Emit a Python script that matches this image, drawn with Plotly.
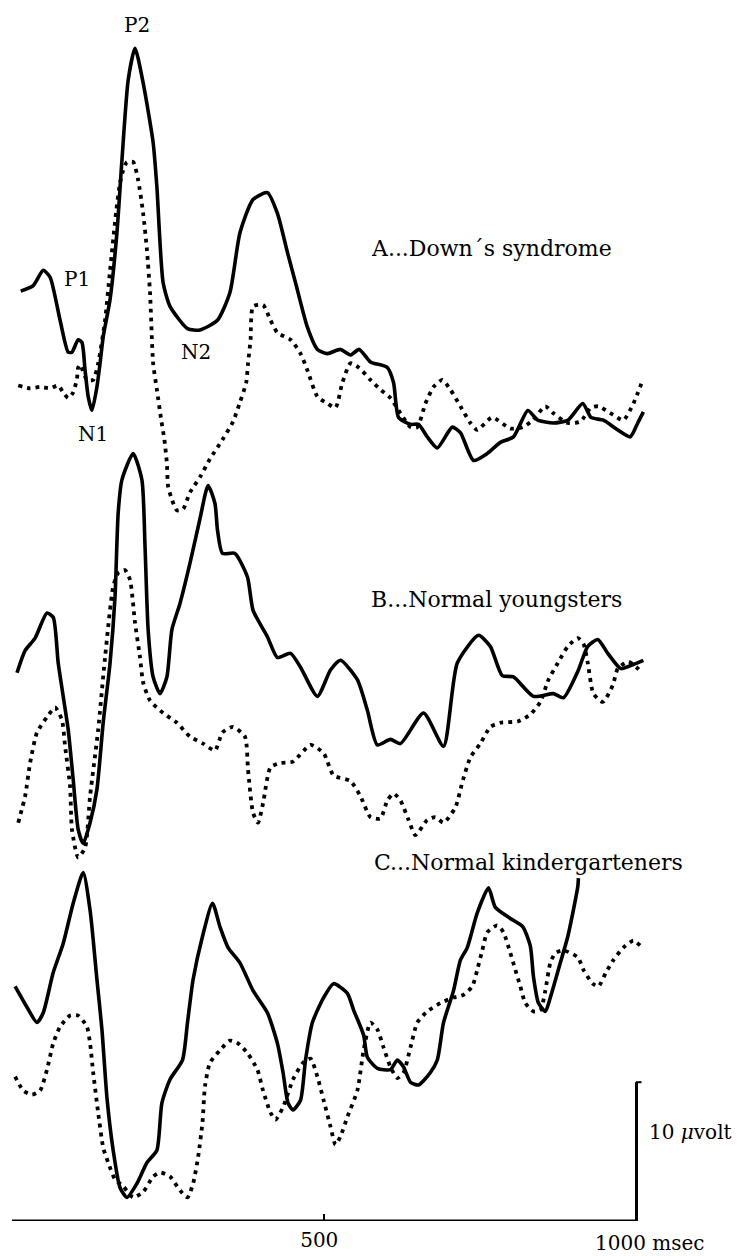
import plotly.graph_objects as go

# ---------------- data (time in msec, amplitude in microvolt relative to each group's baseline)
offset_A = 60.6
offset_B = 36.1
offset_C = 11.6

A_solid_t = [14, 34, 50, 61, 77, 90, 96, 106, 112, 117, 122, 128, 136, 141, 146, 157, 168, 176, 186, 197,
             210, 226, 232, 242, 253, 281, 301, 329, 349, 365, 386, 409, 425, 441, 454, 473, 489, 505, 526, 542,
             556, 574, 601, 611, 619, 638, 651, 665, 681, 705, 718, 739, 761, 782, 803, 826, 842, 867, 890, 914,
             927, 947, 970, 990, 1002, 1011]
A_solid_v = [6.4, 6.8, 7.9, 7.4, 4.3, 2.0, 2.0, 2.9, 2.7, 0.7, -1.2, -2.2, -0.5, 1.2, 3.1, 5.8, 10.6, 15.8, 21.6, 23.9,
             21.4, 17.1, 13.9, 7.0, 5.3, 3.7, 3.6, 4.3, 6.3, 10.6, 13.0, 13.5, 12.0, 9.2, 7.0, 3.8, 2.2, 1.9, 2.2, 1.8,
             2.2, 1.3, 0.9, -0.2, -2.7, -3.2, -3.2, -4.1, -4.9, -3.4, -3.8, -5.8, -5.3, -4.5, -4.1, -2.2, -2.9, -3.1, -2.9, -1.7,
             -2.7, -2.9, -3.6, -4.1, -3.1, -2.3]

A_dot_t = [10, 29, 45, 61, 74, 82, 90, 98, 104, 106, 109, 120, 130, 138, 149, 157, 167, 173, 178, 184,
           194, 202, 210, 216, 221, 226, 232, 239, 244, 248, 250, 256, 264, 274, 285, 301, 317, 337, 354, 365,
           375, 378, 382, 386, 402, 414, 425, 446, 462, 473, 489, 505, 518, 529, 542, 555, 574, 590, 606, 622,
           638, 649, 662, 675, 689, 702, 718, 734, 745, 769, 798, 818, 834, 854, 867, 890, 910, 927, 939, 962,
           979, 995, 1010]
A_dot_v = [-0.4, -0.6, -0.5, -0.6, -0.4, -0.9, -1.3, -0.9, 0.1, 0.9, 1.1, 0.0, 0.0, 1.2, 4.3, 7.9, 12.2, 14.2, 15.1, 15.7,
           15.7, 14.4, 12.0, 9.4, 6.3, 1.2, -0.7, -2.9, -4.3, -6.0, -7.7, -8.6, -9.4, -9.3, -8.1, -7.0, -5.7, -4.3, -3.0, -1.6,
           -0.2, 1.2, 2.9, 5.3, 5.4, 4.3, 3.4, 2.9, 1.9, 0.7, -1.2, -1.7, -2.0, -0.2, 1.2, 0.9, 0.0, -0.7, -1.3, -2.4,
           -3.4, -3.4, -1.7, -0.5, 0.0, -0.7, -1.9, -3.1, -3.6, -2.7, -3.5, -3.4, -2.9, -1.9, -2.4, -3.1, -3.0, -2.0, -1.9, -2.5,
           -2.9, -1.7, 0.0]

B_solid_t = [8, 21, 37, 56, 66, 74, 82, 90, 98, 106, 114, 125, 136, 146, 157, 165, 170, 176, 194, 208,
             213, 218, 226, 237, 248, 256, 269, 285, 301, 314, 325, 329, 337, 357, 377, 386, 409, 425, 446, 462,
             489, 510, 526, 553, 569, 585, 606, 622, 659, 691, 713, 747, 766, 785, 803, 835, 867, 883, 906, 922,
             938, 954, 975, 995, 1011]
B_solid_v = [3.4, 5.0, 5.9, 7.7, 7.4, 4.1, 1.7, -0.7, -4.3, -7.9, -8.9, -7.4, -5.0, -0.2, 4.1, 8.9, 14.9, 17.3, 19.2, 17.3,
             12.5, 6.5, 3.1, 1.9, 3.1, 6.5, 8.4, 11.3, 14.5, 16.9, 15.6, 13.7, 12.0, 12.0, 10.3, 7.9, 6.0, 4.5, 4.8, 3.8,
             1.7, 3.6, 4.3, 2.9, 0.7, -1.8, -1.4, -1.7, 0.5, -1.9, 4.1, 6.1, 5.3, 3.2, 3.1, 1.7, 1.9, 1.6, 3.5, 5.3,
             5.8, 4.8, 3.7, 4.0, 4.3]

B_dot_t = [10, 21, 29, 40, 56, 69, 80, 85, 93, 96, 106, 117, 125, 138, 149, 162, 170, 181, 189, 197,
           205, 210, 221, 242, 264, 285, 306, 325, 337, 354, 373, 378, 386, 394, 402, 414, 430, 450, 478, 499,
           515, 542, 558, 574, 590, 601, 611, 622, 635, 646, 665, 678, 691, 710, 721, 734, 750, 766, 782, 810,
           830, 846, 859, 874, 890, 906, 915, 922, 931, 946, 962, 970, 987, 1007]
B_dot_v = [-7.4, -5.5, -3.1, -0.9, 0.2, 0.9, 0.0, -1.9, -4.8, -7.9, -9.9, -9.2, -5.5, -0.7, 4.5, 9.6, 10.6, 10.8, 10.1, 7.0,
           4.5, 2.7, 1.4, 0.5, -0.2, -1.2, -1.7, -2.2, -0.9, -0.5, -1.2, -3.6, -6.7, -7.4, -6.0, -3.4, -3.1, -3.0, -1.8, -2.4,
           -4.0, -4.4, -5.5, -7.0, -7.1, -5.8, -5.3, -5.8, -7.2, -8.3, -7.2, -7.0, -7.4, -6.3, -4.5, -2.7, -1.7, -0.5, -0.2, -0.1,
           0.4, 1.3, 2.9, 4.1, 5.3, 5.9, 5.5, 4.1, 1.9, 1.3, 2.5, 3.7, 4.2, 3.5]

C_solid_t = [5, 24, 40, 50, 66, 82, 98, 114, 125, 136, 144, 152, 162, 173, 184, 200, 216, 232, 240, 253,
             273, 281, 290, 305, 321, 333, 346, 365, 386, 409, 425, 434, 442, 450, 462, 470, 481, 499, 515, 537,
             547, 563, 569, 585, 606, 617, 627, 638, 651, 670, 681, 691, 707, 718, 729, 745, 763, 774, 798, 818,
             830, 835, 843, 854, 862, 878, 890, 898, 906, 907]
C_solid_v = [5.3, 3.8, 2.7, 3.4, 6.3, 8.4, 11.3, 13.5, 10.8, 5.8, 2.2, -2.7, -6.5, -9.2, -9.9, -8.9, -7.4, -6.5, -3.1, -1.4,
             0.0, 2.7, 5.8, 8.9, 11.3, 9.6, 8.1, 7.0, 5.0, 3.4, 1.2, -0.9, -3.1, -3.6, -2.9, 0.0, 2.7, 4.5, 5.5, 4.8,
             3.6, 1.8, 0.2, -0.6, -0.7, 0.0, -0.5, -1.6, -1.8, -0.9, 0.0, 2.7, 5.0, 7.2, 8.1, 10.6, 12.4, 11.0, 10.2, 9.6,
             8.2, 6.0, 4.1, 3.5, 4.5, 7.0, 8.9, 10.6, 12.5, 13.1]

C_dot_t = [5, 18, 32, 45, 56, 66, 77, 93, 106, 120, 125, 130, 138, 146, 154, 165, 178, 194, 210, 226,
           237, 253, 269, 281, 290, 298, 305, 309, 317, 333, 349, 362, 377, 393, 402, 414, 422, 434, 450, 466,
           478, 489, 499, 510, 518, 526, 537, 553, 563, 574, 585, 595, 606, 617, 627, 638, 649, 665, 686, 707,
           723, 737, 745, 753, 761, 777, 787, 798, 806, 814, 822, 835, 846, 854, 862, 870, 883, 906, 915, 930,
           939, 951, 963, 979, 995, 1007]
C_dot_v = [-1.2, -2.2, -2.5, -2.2, -0.7, 1.2, 2.4, 3.2, 3.2, 2.4, 1.2, -0.9, -3.8, -6.3, -7.4, -8.6, -9.1, -9.9, -9.5, -8.4,
           -8.1, -8.4, -9.4, -9.9, -8.9, -7.0, -4.5, -1.9, -0.2, 0.7, 1.4, 1.2, 0.5, -0.7, -2.2, -3.8, -4.3, -3.4, -1.4, -0.2,
           0.1, -1.2, -2.9, -4.8, -6.1, -5.5, -4.1, -2.2, 0.7, 2.7, 2.2, 0.9, -0.5, -1.3, -0.9, 0.9, 2.7, 3.5, 4.1, 4.5,
           4.7, 5.3, 6.5, 7.9, 9.2, 9.7, 9.2, 7.7, 6.5, 5.3, 4.1, 3.5, 3.6, 5.0, 7.0, 7.7, 7.9, 7.4, 6.5, 5.5,
           5.3, 6.3, 7.2, 8.1, 8.6, 8.2]

group_labels = ["A...Down\u00b4s syndrome", "B...Normal youngsters", "C...Normal kindergarteners"]
component_labels = ["P2", "P1", "N1", "N2"]
scale_uv = 10
time_ticks = [500]
time_ticktext = ["500"]

# ---------------- figure
FONT = "DejaVu Serif"
fig = go.Figure()

series = [
    (A_solid_t, A_solid_v, offset_A, "solid"),
    (A_dot_t, A_dot_v, offset_A, "dot"),
    (B_solid_t, B_solid_v, offset_B, "solid"),
    (B_dot_t, B_dot_v, offset_B, "dot"),
    (C_solid_t, C_solid_v, offset_C, "solid"),
    (C_dot_t, C_dot_v, offset_C, "dot"),
]
for t, v, off, style in series:
    y = [off + a for a in v]
    if style == "solid":
        line = dict(color="black", width=3.6, shape="spline", smoothing=0.6)
    else:
        line = dict(color="black", width=3.8, shape="spline", smoothing=0.6, dash="3.8px,5px")
    fig.add_trace(go.Scatter(x=t, y=y, mode="lines", line=line, hoverinfo="skip"))

# axis line and voltage scale bar
fig.add_shape(type="line", x0=0, x1=1000, y0=0, y1=0, line=dict(color="black", width=3))
fig.add_shape(type="line", x0=1000, x1=1000, y0=0, y1=scale_uv, line=dict(color="black", width=3))
fig.add_shape(type="line", x0=999, x1=1008, y0=scale_uv, y1=scale_uv, line=dict(color="black", width=2))

annos = [
    dict(x=571, y=70.1, text=group_labels[0], xanchor="left", size=22),
    dict(x=571, y=44.8, text=group_labels[1], xanchor="left", size=22),
    dict(x=577, y=25.8, text=group_labels[2], xanchor="left", size=22),
    dict(x=200, y=86.2, text=component_labels[0], xanchor="center", size=20),
    dict(x=104, y=67.9, text=component_labels[1], xanchor="center", size=20),
    dict(x=130, y=56.7, text=component_labels[2], xanchor="center", size=20),
    dict(x=295, y=62.6, text=component_labels[3], xanchor="center", size=20),
]
for a in annos:
    fig.add_annotation(x=a["x"], y=a["y"], text=a["text"], xanchor=a["xanchor"], yanchor="middle",
                       showarrow=False, font=dict(family=FONT, size=a["size"], color="black"))

# labels placed just outside the time range (paper-referenced so they are not hidden)
fig.add_annotation(x=0.997, xref="paper", y=6.4, yref="y", text="10 <i>\u03bc</i>volt",
                   xanchor="left", yanchor="middle", showarrow=False,
                   font=dict(family=FONT, size=20, color="black"))
fig.add_annotation(x=1.001, xref="paper", y=-0.018, yref="paper", text="1000 msec",
                   xanchor="center", yanchor="middle", showarrow=False,
                   font=dict(family=FONT, size=20, color="black"))

fig.update_xaxes(range=[0, 1020], showgrid=False, zeroline=False, showline=False, automargin=False,
                 ticks="inside", ticklen=7, tickwidth=2, tickcolor="black",
                 tickvals=time_ticks, ticktext=time_ticktext, ticklabelstandoff=5, ticklabelshift=-5,
                 tickfont=dict(family=FONT, size=20, color="black"))
fig.update_yaxes(range=[0, 87.4], visible=False, automargin=False)
# page body has an 8px margin: figure is sized/offset so the drawing lands where the reference has it
fig.update_layout(width=737, height=1248, margin=dict(l=4, r=96, t=0, b=35, autoexpand=False),
                  paper_bgcolor="white", plot_bgcolor="white", showlegend=False)

fig.write_html("out.html")
